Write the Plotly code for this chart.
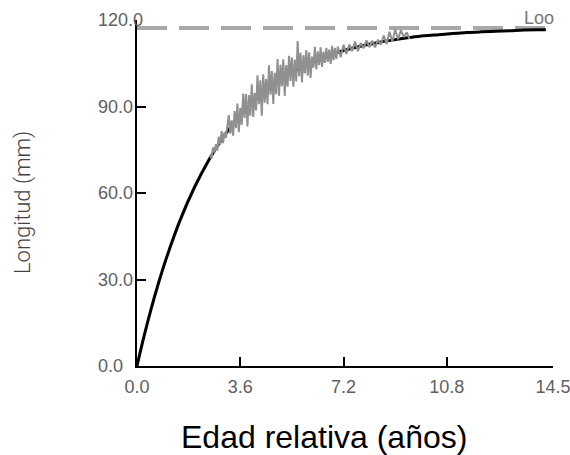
import plotly.graph_objects as go

# Fitted growth curve (age in years, length in mm)
curve_age = [0.0, 0.25, 0.5, 0.75, 1.0, 1.5, 2.0, 2.5, 3.0, 3.5, 4.0, 4.5, 5.0,
             5.5, 6.0, 6.5, 7.0, 7.5, 8.0, 8.5, 9.0, 9.5, 10.0, 10.5, 11.0,
             11.5, 12.0, 12.5, 13.0, 13.5, 14.0, 14.25]
curve_len = [0.0, 10.5, 20.1, 28.8, 36.7, 50.5, 61.9, 71.4, 79.3, 85.8, 91.2,
             95.6, 99.3, 102.4, 104.9, 107.0, 108.8, 110.2, 111.4, 112.4,
             113.2, 113.9, 114.5, 114.9, 115.3, 115.65, 115.9, 116.1, 116.3,
             116.5, 116.6, 116.6]

# Observed lengths by relative age
obs_age = [2.55, 2.60, 2.65, 2.70, 2.75, 2.80, 2.85, 2.90, 2.95, 3.00, 3.05,
           3.10, 3.15, 3.20, 3.25, 3.30,
           3.35, 3.40, 3.45, 3.50, 3.55, 3.60, 3.65, 3.70, 3.75, 3.80, 3.85,
           3.90, 3.95, 4.00, 4.05, 4.10, 4.15, 4.20, 4.25, 4.30, 4.35, 4.40,
           4.45, 4.50, 4.55, 4.60, 4.65, 4.70, 4.75, 4.80, 4.85, 4.90, 4.95,
           5.00, 5.05, 5.10, 5.15, 5.20, 5.25, 5.30, 5.35, 5.40, 5.45, 5.50,
           5.55, 5.60, 5.65, 5.70, 5.75, 5.80, 5.85, 5.90, 5.95, 6.00, 6.05,
           6.10, 6.15, 6.20, 6.25, 6.30, 6.35, 6.40, 6.45, 6.50, 6.55, 6.60,
           6.65, 6.70, 6.75, 6.80, 6.85, 6.90, 6.95, 7.00,
           7.1, 7.2, 7.3, 7.4, 7.5, 7.6, 7.7, 7.8, 7.9, 8.0, 8.1, 8.2, 8.3,
           8.4, 8.5, 8.6, 8.7, 8.8, 8.9, 9.0, 9.1, 9.2, 9.3, 9.4, 9.5]
obs_len = [73.2, 72.0, 75.8, 74.1, 76.9, 74.7, 79.5, 76.8, 81.5, 77.3, 81.0,
           79.1, 83.3, 87.0, 80.6, 85.2,
           79.9, 88.4, 82.5, 91.0, 81.1, 89.5, 83.6, 94.5, 86.0, 94.3, 83.1,
           94.0, 86.8, 97.7, 86.4, 94.7, 88.6, 100.8, 90.8, 99.1, 86.8, 101.2,
           91.3, 99.5, 90.8, 104.3, 94.1, 102.3, 90.9, 101.7, 94.3, 106.5,
           93.7, 104.5, 97.0, 106.4, 93.7, 104.4, 96.9, 107.6, 98.9, 107.0,
           96.9, 106.3, 98.7, 112.7, 100.5, 108.6, 98.4, 107.8, 101.5, 109.6,
           100.7, 108.8, 99.9, 107.3, 103.5, 110.7, 102.9, 109.1, 104.3,
           110.5, 103.7, 109.0, 105.1, 110.3, 105.5, 109.7, 104.8, 111.0,
           106.1, 110.3, 106.5, 110.8,
           107.1, 111.4, 108.2, 111.5, 109.2, 112.5, 109.2, 112.0, 110.2,
           112.9, 110.6, 112.8, 110.5, 113.2, 111.4, 114.6, 111.7, 115.9,
           112.5, 116.7, 113.3, 116.5, 114.1, 115.7, 113.4]

# Asymptotic length
l_inf = 117.2
l_inf_span = [0.0, 14.3]

x_ticks = [0.0, 3.6, 7.2, 10.8, 14.5]
x_tick_text = ["0.0", "3.6", "7.2", "10.8", "14.5"]
y_ticks = [0, 30, 60, 90, 120]
y_tick_text = ["0.0", "30.0", "60.0", "90.0", "120.0"]

tick_font = dict(family="Liberation Sans, Arial, sans-serif", size=18, color="#606060")

fig = go.Figure()

fig.add_trace(go.Scatter(
    x=l_inf_span, y=[l_inf, l_inf], mode="lines",
    line=dict(color="#a8a8a8", width=4, dash="30px,12px"),
    hoverinfo="skip", showlegend=False,
))
fig.add_trace(go.Scatter(
    x=curve_age, y=curve_len, mode="lines",
    line=dict(color="black", width=3, shape="spline"),
    showlegend=False,
))
fig.add_trace(go.Scatter(
    x=obs_age, y=obs_len, mode="lines",
    line=dict(color="#909090", width=2),
    showlegend=False,
))

annotations = []
# y tick labels, left-aligned
for v, t in zip(y_ticks, y_tick_text):
    annotations.append(dict(
        x=-0.099, xref="paper", y=v, yref="y", text=t, showarrow=False,
        xanchor="left", yanchor="middle", font=tick_font,
    ))
annotations.append(dict(
    x=0.966, y=1.006, xref="paper", yref="paper", text="Loo", showarrow=False,
    xanchor="center", yanchor="middle",
    font=dict(family="Liberation Sans, Arial, sans-serif", size=18, color="#777777"),
))
annotations.append(dict(
    x=0.4495, xref="paper", y=-0.205, yref="paper", text="Edad relativa (años)",
    showarrow=False, xanchor="center", yanchor="middle",
    font=dict(family="Liberation Sans, Arial, sans-serif", size=32, color="black"),
))
annotations.append(dict(
    x=-0.274, xref="paper", y=0.471, yref="paper", text="Longitud (mm)",
    showarrow=False, textangle=-90, xanchor="center", yanchor="middle",
    font=dict(family="Roboto, sans-serif", size=22, color="#444444", weight=300),
))

fig.update_layout(
    width=570, height=455,
    margin=dict(l=137, r=17, t=20, b=89, autoexpand=False),
    paper_bgcolor="white", plot_bgcolor="white",
    annotations=annotations,
    xaxis=dict(
        range=[0, 14.5], showgrid=False, zeroline=False, automargin=False,
        showline=True, linecolor="black", linewidth=2,
        ticks="inside", ticklen=9, tickwidth=1.5, tickcolor="black",
        tickvals=x_ticks, ticktext=x_tick_text, tickfont=tick_font,
        ticklabelstandoff=3, ticklabeloverflow="allow",
    ),
    yaxis=dict(
        range=[0, 120], showgrid=False, zeroline=False, automargin=False,
        showline=True, linecolor="black", linewidth=2,
        ticks="inside", ticklen=9, tickwidth=1.5, tickcolor="black",
        tickvals=y_ticks, showticklabels=False,
    ),
)

fig.write_html("out.html")
